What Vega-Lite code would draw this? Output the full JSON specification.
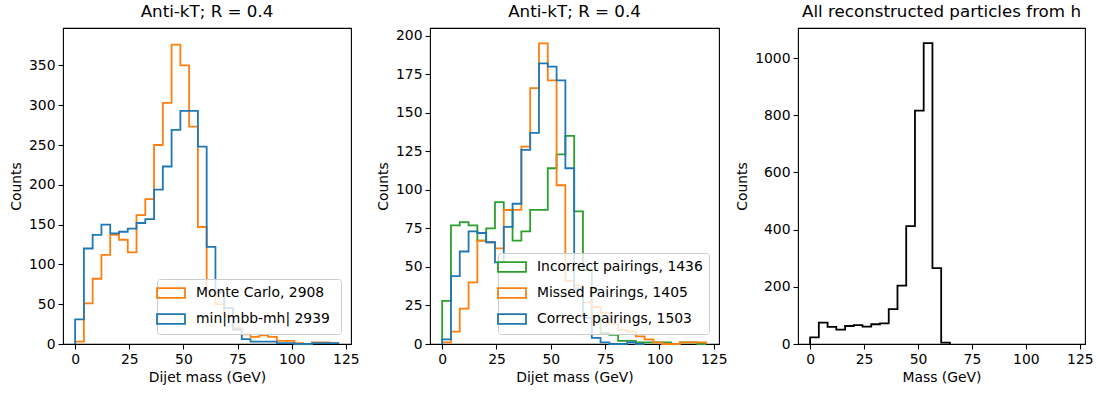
{
  "$schema": "https://vega.github.io/schema/vega-lite/v6.json",
  "padding": {"left": 8, "top": 3, "right": 0, "bottom": 0},
  "background": "white",
  "spacing": 79,
  "bounds": "flush",
  "resolve": {"scale": {"color": "independent"}, "legend": {"color": "independent"}},
  "datasets": {
    "p1": [
      {"s": "Monte Carlo, 2908", "m": 0, "c": 0},
      {"s": "Monte Carlo, 2908", "m": 4.05, "c": 3},
      {"s": "Monte Carlo, 2908", "m": 8.1, "c": 51},
      {"s": "Monte Carlo, 2908", "m": 12.15, "c": 82},
      {"s": "Monte Carlo, 2908", "m": 16.2, "c": 112},
      {"s": "Monte Carlo, 2908", "m": 20.25, "c": 137},
      {"s": "Monte Carlo, 2908", "m": 24.3, "c": 131},
      {"s": "Monte Carlo, 2908", "m": 28.35, "c": 115},
      {"s": "Monte Carlo, 2908", "m": 32.4, "c": 162},
      {"s": "Monte Carlo, 2908", "m": 36.45, "c": 182},
      {"s": "Monte Carlo, 2908", "m": 40.5, "c": 250},
      {"s": "Monte Carlo, 2908", "m": 44.55, "c": 303},
      {"s": "Monte Carlo, 2908", "m": 48.6, "c": 376},
      {"s": "Monte Carlo, 2908", "m": 52.65, "c": 350},
      {"s": "Monte Carlo, 2908", "m": 56.7, "c": 273},
      {"s": "Monte Carlo, 2908", "m": 60.75, "c": 147},
      {"s": "Monte Carlo, 2908", "m": 64.8, "c": 67},
      {"s": "Monte Carlo, 2908", "m": 68.85, "c": 50},
      {"s": "Monte Carlo, 2908", "m": 72.9, "c": 35},
      {"s": "Monte Carlo, 2908", "m": 76.95, "c": 20},
      {"s": "Monte Carlo, 2908", "m": 81, "c": 12},
      {"s": "Monte Carlo, 2908", "m": 85.05, "c": 9},
      {"s": "Monte Carlo, 2908", "m": 89.1, "c": 11},
      {"s": "Monte Carlo, 2908", "m": 93.15, "c": 9},
      {"s": "Monte Carlo, 2908", "m": 97.2, "c": 4},
      {"s": "Monte Carlo, 2908", "m": 101.25, "c": 4},
      {"s": "Monte Carlo, 2908", "m": 105.3, "c": 1},
      {"s": "Monte Carlo, 2908", "m": 109.35, "c": 0},
      {"s": "Monte Carlo, 2908", "m": 113.4, "c": 2},
      {"s": "Monte Carlo, 2908", "m": 117.45, "c": 2},
      {"s": "Monte Carlo, 2908", "m": 121.5, "c": 1},
      {"s": "Monte Carlo, 2908", "m": 121.5, "c": 0},
      {"s": "min|mbb-mh|  2939", "m": 0, "c": 0},
      {"s": "min|mbb-mh|  2939", "m": 4.05, "c": 31},
      {"s": "min|mbb-mh|  2939", "m": 8.1, "c": 120},
      {"s": "min|mbb-mh|  2939", "m": 12.15, "c": 137},
      {"s": "min|mbb-mh|  2939", "m": 16.2, "c": 150},
      {"s": "min|mbb-mh|  2939", "m": 20.25, "c": 139},
      {"s": "min|mbb-mh|  2939", "m": 24.3, "c": 141},
      {"s": "min|mbb-mh|  2939", "m": 28.35, "c": 145},
      {"s": "min|mbb-mh|  2939", "m": 32.4, "c": 152},
      {"s": "min|mbb-mh|  2939", "m": 36.45, "c": 157},
      {"s": "min|mbb-mh|  2939", "m": 40.5, "c": 194},
      {"s": "min|mbb-mh|  2939", "m": 44.55, "c": 223},
      {"s": "min|mbb-mh|  2939", "m": 48.6, "c": 269},
      {"s": "min|mbb-mh|  2939", "m": 52.65, "c": 293},
      {"s": "min|mbb-mh|  2939", "m": 56.7, "c": 293},
      {"s": "min|mbb-mh|  2939", "m": 60.75, "c": 248},
      {"s": "min|mbb-mh|  2939", "m": 64.8, "c": 122},
      {"s": "min|mbb-mh|  2939", "m": 68.85, "c": 65},
      {"s": "min|mbb-mh|  2939", "m": 72.9, "c": 45},
      {"s": "min|mbb-mh|  2939", "m": 76.95, "c": 18},
      {"s": "min|mbb-mh|  2939", "m": 81, "c": 6},
      {"s": "min|mbb-mh|  2939", "m": 85.05, "c": 3},
      {"s": "min|mbb-mh|  2939", "m": 89.1, "c": 3},
      {"s": "min|mbb-mh|  2939", "m": 93.15, "c": 3},
      {"s": "min|mbb-mh|  2939", "m": 97.2, "c": 1},
      {"s": "min|mbb-mh|  2939", "m": 101.25, "c": 1},
      {"s": "min|mbb-mh|  2939", "m": 105.3, "c": 0},
      {"s": "min|mbb-mh|  2939", "m": 109.35, "c": 0},
      {"s": "min|mbb-mh|  2939", "m": 113.4, "c": 1},
      {"s": "min|mbb-mh|  2939", "m": 117.45, "c": 1},
      {"s": "min|mbb-mh|  2939", "m": 121.5, "c": 1},
      {"s": "min|mbb-mh|  2939", "m": 121.5, "c": 0}
    ],
    "p2": [
      {"s": "Incorrect pairings, 1436", "m": 0, "c": 0},
      {"s": "Incorrect pairings, 1436", "m": 4.05, "c": 28},
      {"s": "Incorrect pairings, 1436", "m": 8.1, "c": 77},
      {"s": "Incorrect pairings, 1436", "m": 12.15, "c": 79},
      {"s": "Incorrect pairings, 1436", "m": 16.2, "c": 77},
      {"s": "Incorrect pairings, 1436", "m": 20.25, "c": 67},
      {"s": "Incorrect pairings, 1436", "m": 24.3, "c": 75},
      {"s": "Incorrect pairings, 1436", "m": 28.35, "c": 92},
      {"s": "Incorrect pairings, 1436", "m": 32.4, "c": 87},
      {"s": "Incorrect pairings, 1436", "m": 36.45, "c": 67},
      {"s": "Incorrect pairings, 1436", "m": 40.5, "c": 73},
      {"s": "Incorrect pairings, 1436", "m": 44.55, "c": 87},
      {"s": "Incorrect pairings, 1436", "m": 48.6, "c": 87},
      {"s": "Incorrect pairings, 1436", "m": 52.65, "c": 114},
      {"s": "Incorrect pairings, 1436", "m": 56.7, "c": 123},
      {"s": "Incorrect pairings, 1436", "m": 60.75, "c": 135},
      {"s": "Incorrect pairings, 1436", "m": 64.8, "c": 86},
      {"s": "Incorrect pairings, 1436", "m": 68.85, "c": 48},
      {"s": "Incorrect pairings, 1436", "m": 72.9, "c": 18},
      {"s": "Incorrect pairings, 1436", "m": 76.95, "c": 7},
      {"s": "Incorrect pairings, 1436", "m": 81, "c": 6},
      {"s": "Incorrect pairings, 1436", "m": 85.05, "c": 2},
      {"s": "Incorrect pairings, 1436", "m": 89.1, "c": 2},
      {"s": "Incorrect pairings, 1436", "m": 93.15, "c": 1},
      {"s": "Incorrect pairings, 1436", "m": 97.2, "c": 1},
      {"s": "Incorrect pairings, 1436", "m": 101.25, "c": 1},
      {"s": "Incorrect pairings, 1436", "m": 105.3, "c": 1},
      {"s": "Incorrect pairings, 1436", "m": 109.35, "c": 0},
      {"s": "Incorrect pairings, 1436", "m": 113.4, "c": 1},
      {"s": "Incorrect pairings, 1436", "m": 117.45, "c": 1},
      {"s": "Incorrect pairings, 1436", "m": 121.5, "c": 0},
      {"s": "Missed Pairings, 1405", "m": 0, "c": 0},
      {"s": "Missed Pairings, 1405", "m": 4.05, "c": 1},
      {"s": "Missed Pairings, 1405", "m": 8.1, "c": 8},
      {"s": "Missed Pairings, 1405", "m": 12.15, "c": 23},
      {"s": "Missed Pairings, 1405", "m": 16.2, "c": 40},
      {"s": "Missed Pairings, 1405", "m": 20.25, "c": 67},
      {"s": "Missed Pairings, 1405", "m": 24.3, "c": 66},
      {"s": "Missed Pairings, 1405", "m": 28.35, "c": 62},
      {"s": "Missed Pairings, 1405", "m": 32.4, "c": 87},
      {"s": "Missed Pairings, 1405", "m": 36.45, "c": 87},
      {"s": "Missed Pairings, 1405", "m": 40.5, "c": 128},
      {"s": "Missed Pairings, 1405", "m": 44.55, "c": 166},
      {"s": "Missed Pairings, 1405", "m": 48.6, "c": 195},
      {"s": "Missed Pairings, 1405", "m": 52.65, "c": 171},
      {"s": "Missed Pairings, 1405", "m": 56.7, "c": 103},
      {"s": "Missed Pairings, 1405", "m": 60.75, "c": 41},
      {"s": "Missed Pairings, 1405", "m": 64.8, "c": 38},
      {"s": "Missed Pairings, 1405", "m": 68.85, "c": 27},
      {"s": "Missed Pairings, 1405", "m": 72.9, "c": 24},
      {"s": "Missed Pairings, 1405", "m": 76.95, "c": 20},
      {"s": "Missed Pairings, 1405", "m": 81, "c": 13},
      {"s": "Missed Pairings, 1405", "m": 85.05, "c": 9},
      {"s": "Missed Pairings, 1405", "m": 89.1, "c": 8},
      {"s": "Missed Pairings, 1405", "m": 93.15, "c": 5},
      {"s": "Missed Pairings, 1405", "m": 97.2, "c": 3},
      {"s": "Missed Pairings, 1405", "m": 101.25, "c": 1},
      {"s": "Missed Pairings, 1405", "m": 105.3, "c": 0},
      {"s": "Missed Pairings, 1405", "m": 109.35, "c": 0},
      {"s": "Missed Pairings, 1405", "m": 113.4, "c": 1},
      {"s": "Missed Pairings, 1405", "m": 117.45, "c": 1},
      {"s": "Missed Pairings, 1405", "m": 121.5, "c": 1},
      {"s": "Missed Pairings, 1405", "m": 121.5, "c": 0},
      {"s": "Correct pairings, 1503", "m": 0, "c": 0},
      {"s": "Correct pairings, 1503", "m": 4.05, "c": 3},
      {"s": "Correct pairings, 1503", "m": 8.1, "c": 44},
      {"s": "Correct pairings, 1503", "m": 12.15, "c": 60},
      {"s": "Correct pairings, 1503", "m": 16.2, "c": 73},
      {"s": "Correct pairings, 1503", "m": 20.25, "c": 72},
      {"s": "Correct pairings, 1503", "m": 24.3, "c": 66},
      {"s": "Correct pairings, 1503", "m": 28.35, "c": 53},
      {"s": "Correct pairings, 1503", "m": 32.4, "c": 76},
      {"s": "Correct pairings, 1503", "m": 36.45, "c": 91},
      {"s": "Correct pairings, 1503", "m": 40.5, "c": 126},
      {"s": "Correct pairings, 1503", "m": 44.55, "c": 137},
      {"s": "Correct pairings, 1503", "m": 48.6, "c": 182},
      {"s": "Correct pairings, 1503", "m": 52.65, "c": 180},
      {"s": "Correct pairings, 1503", "m": 56.7, "c": 171},
      {"s": "Correct pairings, 1503", "m": 60.75, "c": 114},
      {"s": "Correct pairings, 1503", "m": 64.8, "c": 36},
      {"s": "Correct pairings, 1503", "m": 68.85, "c": 17},
      {"s": "Correct pairings, 1503", "m": 72.9, "c": 4},
      {"s": "Correct pairings, 1503", "m": 76.95, "c": 1},
      {"s": "Correct pairings, 1503", "m": 81, "c": 0},
      {"s": "Correct pairings, 1503", "m": 85.05, "c": 0},
      {"s": "Correct pairings, 1503", "m": 89.1, "c": 1},
      {"s": "Correct pairings, 1503", "m": 93.15, "c": 0}
    ],
    "p3": [
      {"m": 0, "c": 0},
      {"m": 4.05, "c": 23},
      {"m": 8.1, "c": 75},
      {"m": 12.15, "c": 60},
      {"m": 16.2, "c": 50},
      {"m": 20.25, "c": 63},
      {"m": 24.3, "c": 66},
      {"m": 28.35, "c": 61},
      {"m": 32.4, "c": 69},
      {"m": 36.45, "c": 72},
      {"m": 40.5, "c": 122},
      {"m": 44.55, "c": 204},
      {"m": 48.6, "c": 412},
      {"m": 52.65, "c": 816},
      {"m": 56.7, "c": 1052},
      {"m": 60.75, "c": 265},
      {"m": 64.8, "c": 5},
      {"m": 64.8, "c": 0}
    ]
  },
  "hconcat": [
    {
      "width": 288,
      "height": 316,
      "title": "Anti-kT; R = 0.4",
      "data": {"name": "p1"},
      "mark": {"type": "line", "interpolate": "step-before", "strokeWidth": 1.8},
      "encoding": {
        "x": {"field": "m", "type": "quantitative", "title": "Dijet mass (GeV)",
              "scale": {"domain": [-5.6, 127.4], "nice": false, "zero": false},
              "axis": {"values": [0, 25, 50, 75, 100, 125]}},
        "y": {"field": "c", "type": "quantitative", "title": "Counts",
              "scale": {"domain": [0, 397], "nice": false},
              "axis": {"values": [0, 50, 100, 150, 200, 250, 300, 350]}},
        "color": {"field": "s", "type": "nominal",
                  "scale": {"domain": ["Monte Carlo, 2908", "min|mbb-mh|  2939"], "range": ["#ff7f0e", "#1f77b4"]},
                  "legend": {"symbolType": "M-2,-0.7H2V0.7H-2Z"}},
        "order": {"value": null}
      }
    },
    {
      "width": 289,
      "height": 316,
      "title": "Anti-kT; R = 0.4",
      "data": {"name": "p2"},
      "mark": {"type": "line", "interpolate": "step-before", "strokeWidth": 1.8},
      "encoding": {
        "x": {"field": "m", "type": "quantitative", "title": "Dijet mass (GeV)",
              "scale": {"domain": [-5.6, 127.4], "nice": false, "zero": false},
              "axis": {"values": [0, 25, 50, 75, 100, 125]}},
        "y": {"field": "c", "type": "quantitative", "title": "Counts",
              "scale": {"domain": [0, 205], "nice": false},
              "axis": {"values": [0, 25, 50, 75, 100, 125, 150, 175, 200]}},
        "color": {"field": "s", "type": "nominal",
                  "scale": {"domain": ["Incorrect pairings, 1436", "Missed Pairings, 1405", "Correct pairings, 1503"], "range": ["#2ca02c", "#ff7f0e", "#1f77b4"]},
                  "legend": {"symbolType": "M-2,-0.7H2V0.7H-2Z"}},
        "order": {"value": null}
      }
    },
    {
      "width": 287,
      "height": 316,
      "title": "All reconstructed particles from h",
      "data": {"name": "p3"},
      "mark": {"type": "line", "interpolate": "step-before", "strokeWidth": 1.8, "color": "black"},
      "encoding": {
        "x": {"field": "m", "type": "quantitative", "title": "Mass (GeV)",
              "scale": {"domain": [-5.6, 127.4], "nice": false, "zero": false},
              "axis": {"values": [0, 25, 50, 75, 100, 125]}},
        "y": {"field": "c", "type": "quantitative", "title": "Counts",
              "scale": {"domain": [0, 1105], "nice": false},
              "axis": {"values": [0, 200, 400, 600, 800, 1000], "format": "d"}},
        "order": {"value": null}
      }
    }
  ],
  "config": {
    "font": "DejaVu Sans",
    "view": {"stroke": "black", "strokeWidth": 1.1},
    "axis": {
      "domain": false, "grid": false, "ticks": true, "tickColor": "black", "tickSize": 5, "tickWidth": 1.1,
      "labelColor": "black", "labelFontSize": 13.9, "labelFont": "DejaVu Sans", "labelPadding": 3,
      "titleFont": "DejaVu Sans", "titleFontSize": 13.9, "titleFontWeight": "normal", "titleColor": "black", "titlePadding": 5
    },
    "title": {"fontSize": 16.7, "fontWeight": "normal", "font": "DejaVu Sans", "color": "black", "offset": 7, "anchor": "middle"},
    "legend": {
      "orient": "bottom-right", "offset": 10, "title": null,
      "labelFontSize": 13.9, "labelFont": "DejaVu Sans", "labelColor": "black", "labelLimit": 400,
      "symbolSize": 196, "symbolStrokeWidth": 1.8, "symbolFillColor": "transparent",
      "padding": 6, "rowPadding": 8, "labelOffset": 17,
      "strokeColor": "#cccccc", "fillColor": "rgba(255,255,255,0.8)", "cornerRadius": 3
    }
  }
}
